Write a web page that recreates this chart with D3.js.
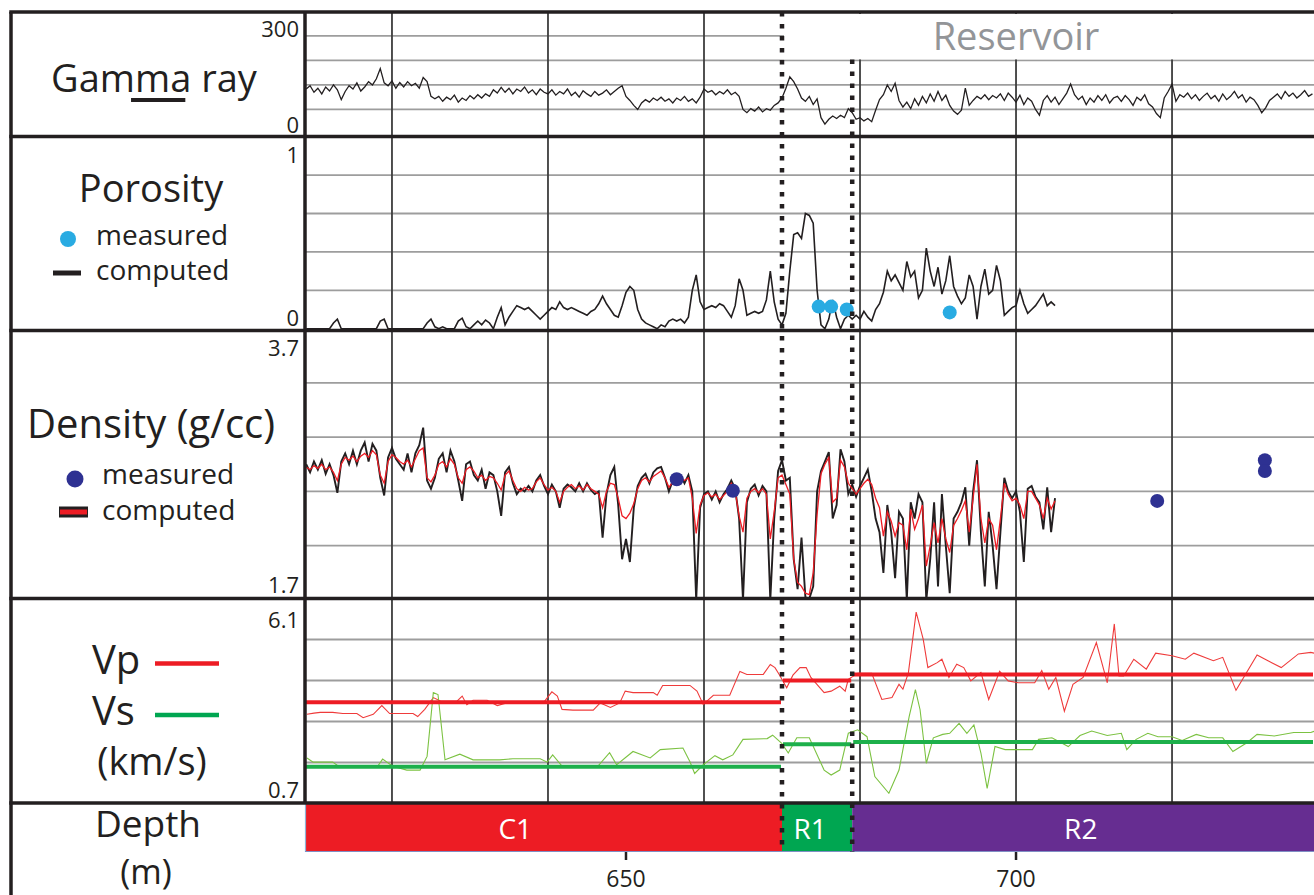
<!DOCTYPE html>
<html><head><meta charset="utf-8">
<script src="https://cdn.jsdelivr.net/npm/d3@7"></script>
<style>
body{margin:0;background:#fff}
svg{display:block}
text{font-family:"Open Sans",sans-serif;fill:#231F20}
</style>
</head><body>
<svg id="c" width="1314" height="895"></svg>
<script>
// ---------------- DATA ----------------
const depthDomain = [608.85, 738.2];
const gridDepths = [620, 640, 660, 680, 700, 720];
const depthTicks = [650, 700];
const zoneNames = ["C1", "R1", "R2"];
const zoneTops = [608.85, 670, 679];
const zoneBottoms = [670, 679, 738.2];
const zoneColors = ["#ED1C24", "#00A651", "#662D91"];
const zoneLabelDepths = [635.8, 673.6, 708.3];
const vpMean = [3.37, 3.94, 4.10];
const vsMean = [1.67, 2.26, 2.32];
const boundaryDepths = [670, 679];
const reservoirLabelDepth = 700;

const gammaRange = [0, 300], gammaGrid = [60, 120, 180, 240], gammaTickLabels = ["300", "0"];
const porosityRange = [0, 1], porosityGrid = [0.2, 0.4, 0.6, 0.8], porosityTickLabels = ["1", "0"];
const densityRange = [1.7, 3.7], densityGrid = [2.1, 2.5, 2.9, 3.3], densityTickLabels = ["3.7", "1.7"];
const velRange = [0.7, 6.1], velGrid = [1.78, 2.86, 3.94, 5.02], velTickLabels = ["6.1", "0.7"];

// Gamma ray, 0.5 m sampling from 609 m
const gammaStart = 609, gammaStep = 0.5;
const gammaValues = [
110,118,102,112,98,115,105,120,108,84,
104,118,110,125,105,115,128,120,135,160,
125,118,130,112,126,115,128,118,124,112,
138,128,92,86,92,80,90,84,95,78,
88,82,94,86,96,88,98,92,108,100,
114,102,112,98,110,104,115,100,108,96,
110,102,98,108,95,104,98,110,94,102,
90,106,98,92,104,95,100,108,96,104,
112,118,92,82,70,60,76,84,78,88,
82,90,80,86,76,88,82,92,80,86,
76,90,110,102,106,96,104,98,108,96,
102,92,60,52,62,56,66,54,62,58,
70,76,88,112,140,128,110,88,80,92,
72,86,40,24,36,44,38,46,40,62,
52,36,40,32,38,30,58,84,96,120,
104,124,82,66,78,62,86,70,92,76,
98,80,104,82,95,70,56,48,58,112,
70,82,92,86,96,84,94,88,98,82,
100,90,78,95,72,88,80,60,46,82,
94,78,90,72,86,100,122,96,84,92,
72,88,78,94,82,96,76,88,92,80,
94,84,70,90,82,96,74,66,50,40,
88,104,122,80,96,90,100,86,96,82,
92,100,86,94,80,98,84,92,104,88,
96,78,90,84,70,52,64,82,90,98,
86,104,92,100,88,96,106,92,98];

// Computed porosity, 0.5 m sampling from 609 m
const porosityStart = 609, porosityStep = 0.5;
const porosityValues = [
0,0,0,0,0,0,0,0.03,0.05,0,
0,0,0,0,0,0,0,0,0,0.04,
0.05,0,0,0,0,0,0,0,0,0,
0,0.03,0.05,0.01,0,0.01,0,0,0,0.04,
0.055,0.01,0,0.02,0.04,0.02,0.045,0.03,0,0.06,
0.11,0.02,0.06,0.09,0.12,0.11,0.1,0.11,0.09,0.07,
0.05,0.07,0.09,0.11,0.1,0.14,0.11,0.1,0.11,0.1,
0.09,0.08,0.07,0.09,0.1,0.13,0.17,0.13,0.1,0.07,
0.06,0.12,0.19,0.22,0.2,0.1,0.05,0.03,0.02,0.01,
0,0.02,0.01,0.04,0.05,0.04,0.05,0.03,0.06,0.2,
0.28,0.14,0.1,0.11,0.12,0.11,0.13,0.12,0.09,0.06,
0.12,0.26,0.2,0.07,0.08,0.09,0.08,0.09,0.15,0.3,
0.14,0.05,0.02,0.08,0.3,0.49,0.5,0.47,0.6,0.59,
0.55,0.2,0.02,0,0.05,0.15,0.06,0,0.05,0.07,
0.05,0.07,0.05,0.09,0.06,0.04,0.1,0.13,0.19,0.3,
0.25,0.28,0.24,0.2,0.35,0.27,0.3,0.16,0.2,0.42,
0.3,0.22,0.32,0.18,0.25,0.38,0.22,0.17,0.13,0.16,
0.28,0.22,0.05,0.22,0.31,0.18,0.2,0.33,0.25,0.07,
0.09,0.11,0.12,0.2,0.13,0.08,0.1,0.12,0.15,0.18,
0.12,0.14,0.12];
const porosityMeasured = [[674.7, 0.115], [676.3, 0.115], [678.3, 0.10], [691.5, 0.085]];

// Density, 0.5 m sampling from 609 m
const densityStart = 609, densityStep = 0.5;
const densityLog = [
2.70,2.64,2.72,2.66,2.73,2.63,2.70,2.62,2.49,2.72,
2.78,2.70,2.80,2.70,2.80,2.86,2.72,2.85,2.80,2.60,
2.47,2.75,2.82,2.74,2.70,2.66,2.78,2.64,2.78,2.84,
2.97,2.58,2.52,2.60,2.74,2.78,2.64,2.80,2.72,2.58,
2.43,2.70,2.72,2.62,2.58,2.66,2.52,2.64,2.62,2.50,
2.32,2.64,2.68,2.56,2.48,2.52,2.50,2.54,2.50,2.58,
2.62,2.54,2.48,2.55,2.50,2.38,2.52,2.55,2.53,2.50,
2.56,2.50,2.56,2.51,2.48,2.50,2.16,2.48,2.62,2.68,
2.40,2.00,2.15,1.98,2.38,2.54,2.60,2.63,2.56,2.64,
2.67,2.68,2.60,2.50,2.58,2.60,2.62,2.56,2.62,2.50,
1.70,2.38,2.48,2.50,2.44,2.50,2.42,2.48,2.52,2.58,
2.52,2.30,1.70,2.42,2.52,2.55,2.47,2.54,2.50,1.70,
2.30,2.65,2.73,2.58,2.60,2.00,1.78,2.16,1.72,1.71,
1.80,2.50,2.65,2.72,2.79,2.30,2.40,2.81,2.72,2.48,
2.55,2.46,2.54,2.60,2.66,2.50,2.30,2.20,1.90,2.40,
2.20,1.86,2.35,2.30,1.70,2.42,2.30,2.48,2.42,1.70,
2.00,2.42,1.80,2.48,2.10,1.75,2.30,2.35,2.42,2.53,
2.10,2.50,2.73,2.20,1.80,2.35,2.10,1.78,2.20,2.60,
2.50,2.45,2.50,2.35,1.98,2.52,2.54,2.46,2.42,2.22,
2.53,2.20,2.45];
const densityComputed = [
2.68,2.66,2.69,2.67,2.70,2.66,2.68,2.64,2.58,2.70,
2.75,2.73,2.76,2.72,2.76,2.78,2.75,2.80,2.77,2.62,
2.56,2.72,2.77,2.75,2.72,2.70,2.73,2.68,2.74,2.80,
2.82,2.60,2.57,2.62,2.70,2.72,2.68,2.74,2.70,2.60,
2.56,2.66,2.68,2.65,2.60,2.62,2.58,2.61,2.60,2.56,
2.51,2.62,2.65,2.58,2.52,2.50,2.53,2.51,2.52,2.57,
2.60,2.55,2.51,2.53,2.50,2.42,2.50,2.53,2.55,2.52,
2.54,2.51,2.55,2.52,2.50,2.48,2.38,2.50,2.56,2.55,
2.45,2.32,2.30,2.34,2.41,2.52,2.58,2.60,2.57,2.61,
2.63,2.65,2.60,2.53,2.57,2.58,2.60,2.58,2.60,2.45,
2.19,2.40,2.47,2.49,2.46,2.48,2.44,2.47,2.50,2.56,
2.50,2.32,2.20,2.45,2.50,2.52,2.49,2.52,2.48,2.15,
2.35,2.60,2.62,2.55,2.48,2.00,1.83,1.80,1.75,1.74,
1.90,2.33,2.63,2.70,2.75,2.42,2.45,2.73,2.68,2.56,
2.52,2.48,2.52,2.56,2.59,2.55,2.45,2.38,2.17,2.35,
2.28,2.17,2.27,2.25,2.07,2.37,2.22,2.30,2.40,1.95,
2.10,2.27,2.12,2.30,2.15,2.05,2.25,2.30,2.36,2.43,
2.20,2.45,2.70,2.30,2.12,2.30,2.25,2.07,2.30,2.56,
2.48,2.43,2.45,2.40,2.30,2.50,2.50,2.45,2.40,2.30,
2.45,2.37,2.43];
const densityMeasured = [[656.5, 2.59], [663.7, 2.505], [718.1, 2.43], [731.9, 2.73], [731.9, 2.65]];

// Velocities: [depth m, km/s]
const vpLog = [[609.1,3.05],[610,3.08],[610.8,3.1],[612.4,3.1],[613.7,3.07],[615.5,3.07],[616.3,2.96],[617.6,3.05],[618.7,3.28],[619.7,3.07],
[621,3.07],[622.7,3.07],[623.3,2.99],[624.2,3.18],[625.3,3.49],[626.2,3.4],[627,3.39],[628.3,3.39],[629,3.53],[629.6,3.3],
[630.4,3.42],[632.2,3.42],[633.5,3.28],[634.7,3.35],[636.4,3.35],[639.4,3.35],[640.5,3.64],[641.2,3.53],[641.8,3.18],[643.2,3.16],
[645.8,3.16],[646.7,3.35],[648,3.23],[649.2,3.35],[649.9,3.66],[650.9,3.62],[653.5,3.62],[654,3.55],[654.7,3.81],[658.2,3.81],
[659.1,3.66],[659.9,3.31],[661.2,3.55],[663.3,3.55],[664.6,4.18],[665.5,4.1],[667.6,4.1],[668.5,4.36],[669.1,4.28],[669.7,4.08],
[670.6,3.75],[671.4,4.08],[672.3,4.28],[673.1,4.28],[673.7,4.02],[675.4,3.62],[676.3,3.66],[677.4,3.79],[678.1,3.66],[678.5,3.97],
[679.7,4.13],[681.5,4.13],[682.8,3.44],[684.1,3.49],[685,3.84],[685.5,3.71],[686.2,4.14],[687.2,5.74],[688.1,5.03],[688.7,4.28],
[689.9,4.41],[690.5,4.5],[691.4,4.02],[692.4,4.37],[693.3,4.28],[694.2,3.93],[695.5,4.15],[696.5,3.44],[697.9,4.18],[699,3.93],
[700.3,3.88],[702.4,3.88],[703.3,4.2],[704.2,3.71],[705.1,4.02],[706.2,3.13],[707.3,3.84],[708.6,4.02],[710.3,4.94],[711.7,3.88],
[712.6,5.43],[713.2,4.06],[713.8,4.06],[715.1,4.5],[716.7,4.24],[717.9,4.66],[720,4.59],[721.7,4.5],[722.8,4.66],[725.3,4.46],
[726.5,4.55],[728.2,3.68],[730.9,4.61],[734,4.28],[736.2,4.64],[737.8,4.68],[738.2,4.66]];
const vsLog = [[609.1,1.9],[609.9,1.79],[612.4,1.79],[613.3,1.66],[618.1,1.66],[618.8,1.87],[620.1,1.68],[621.9,1.58],[623.6,1.58],[624.5,1.94],
[625.3,3.62],[625.9,3.57],[626.8,1.85],[628.7,2.0],[630.4,1.85],[633.8,1.85],[635.5,1.88],[639,1.88],[639.9,1.79],[640.6,1.98],
[641.9,1.66],[646.3,1.66],[647.9,2.04],[648.8,1.72],[650.9,2.07],[653.1,1.9],[654.4,2.12],[657.3,2.16],[658.2,1.8],[658.8,1.49],
[659.9,1.72],[661.4,1.96],[662.4,1.85],[663.7,1.98],[665,2.39],[668.1,2.41],[668.8,2.5],[670,2.28],[670.8,2.03],[671.9,2.43],
[673.5,2.43],[675.4,1.58],[676.3,1.45],[677.4,1.58],[678.5,2.55],[679.7,2.64],[680.9,2.46],[681.9,1.41],[683.7,0.97],[685,1.58],
[686.3,2.99],[687.1,3.7],[687.7,3.17],[688.5,1.76],[689.4,2.43],[690.6,2.52],[691.5,2.55],[692.7,2.81],[693.7,2.55],[694.6,2.77],
[695.5,2.03],[696.3,1.1],[697.3,2.2],[698.6,2.12],[702.1,2.12],[702.9,2.39],[704.6,2.43],[706.7,2.2],[708.2,2.49],[709.7,2.61],
[711.7,2.49],[713.5,2.55],[714.2,2.12],[715.4,2.39],[716.9,2.55],[718.2,2.46],[720,2.46],[721.3,2.36],[723.1,2.52],[724.7,2.43],
[726.5,2.43],[727.8,2.07],[729.6,2.3],[730.9,2.52],[733.1,2.48],[735.6,2.57],[737.8,2.57],[738.2,2.6]];

// ---------------- LAYOUT ----------------
const INK = "#231F20";
const FRAME_L = 11, FRAME_T = 12, DIV_X = 305, RIGHT = 1314;
const rowBorders = [12, 136.5, 330.5, 598.5, 803];
const BAR_BOTTOM = 852;

const svg = d3.select("#c");
const x = d3.scaleLinear().domain(depthDomain).range([DIV_X, RIGHT]);

const panels = [
  {key:"gamma", y:d3.scaleLinear().domain(gammaRange).range([134, 11.3]), grid:gammaGrid, labels:gammaTickLabels, top:rowBorders[0], bottom:rowBorders[1], lt:24.5, lb:3.5},
  {key:"por", y:d3.scaleLinear().domain(porosityRange).range([328.7, 136.7]), grid:porosityGrid, labels:porosityTickLabels, top:rowBorders[1], bottom:rowBorders[2], lt:26, lb:4.5},
  {key:"den", y:d3.scaleLinear().domain(densityRange).range([600, 328.5]), grid:densityGrid, labels:densityTickLabels, top:rowBorders[2], bottom:rowBorders[3], lt:25.5, lb:5.5},
  {key:"vel", y:d3.scaleLinear().domain(velRange).range([803.5, 598.5]), grid:velGrid, labels:velTickLabels, top:rowBorders[3], bottom:rowBorders[4], lt:29, lb:5}
];

const defs = svg.append("defs");
panels.forEach(p => {
  defs.append("clipPath").attr("id", "clip-" + p.key)
    .append("rect").attr("x", DIV_X).attr("y", p.top + 1.5)
    .attr("width", RIGHT - DIV_X).attr("height", p.bottom - p.top - 3);
});

// grids
panels.forEach(p => {
  const g = svg.append("g");
  g.selectAll("line.h").data(p.grid).join("line")
    .attr("x1", DIV_X).attr("x2", RIGHT)
    .attr("y1", d => p.y(d)).attr("y2", d => p.y(d))
    .attr("stroke", "#9d9d9d").attr("stroke-width", 1.8);
  g.selectAll("line.v").data(gridDepths).join("line")
    .attr("x1", d => x(d)).attr("x2", d => x(d))
    .attr("y1", p.top).attr("y2", p.bottom)
    .attr("stroke", "#3d3d3d").attr("stroke-width", 1.8);
});

const P = Object.fromEntries(panels.map(p => [p.key, p]));
const series = (start, step, arr) => arr.map((v, i) => [start + i * step, v]);

// gamma
{
  const p = P.gamma;
  svg.append("path").attr("clip-path", "url(#clip-gamma)")
    .datum(series(gammaStart, gammaStep, gammaValues))
    .attr("d", d3.line().x(d => x(d[0])).y(d => p.y(d[1])))
    .attr("fill", "none").attr("stroke", INK).attr("stroke-width", 1.3);
}
// porosity
{
  const p = P.por;
  svg.append("path").attr("clip-path", "url(#clip-por)")
    .datum(series(porosityStart, porosityStep, porosityValues))
    .attr("d", d3.line().x(d => x(d[0])).y(d => p.y(d[1])))
    .attr("fill", "none").attr("stroke", INK).attr("stroke-width", 1.6);
  svg.append("g").selectAll("circle").data(porosityMeasured).join("circle")
    .attr("cx", d => x(d[0])).attr("cy", d => p.y(d[1])).attr("r", 7)
    .attr("fill", "#29ABE2");
}
// density
{
  const p = P.den;
  svg.append("path").attr("clip-path", "url(#clip-den)")
    .datum(series(densityStart, densityStep, densityLog))
    .attr("d", d3.line().x(d => x(d[0])).y(d => p.y(d[1])))
    .attr("fill", "none").attr("stroke", INK).attr("stroke-width", 1.9);
  svg.append("path").attr("clip-path", "url(#clip-den)")
    .datum(series(densityStart, densityStep, densityComputed))
    .attr("d", d3.line().x(d => x(d[0])).y(d => p.y(d[1])))
    .attr("fill", "none").attr("stroke", "#ED1C24").attr("stroke-width", 1.3);
  svg.append("g").selectAll("circle").data(densityMeasured).join("circle")
    .attr("cx", d => x(d[0])).attr("cy", d => p.y(d[1])).attr("r", 7)
    .attr("fill", "#2E3192");
}
// velocities
{
  const p = P.vel;
  const ln = d3.line().x(d => x(d[0])).y(d => p.y(d[1]));
  svg.append("path").attr("clip-path", "url(#clip-vel)").datum(vpLog).attr("d", ln)
    .attr("fill", "none").attr("stroke", "#EF3B3B").attr("stroke-width", 1.1);
  svg.append("path").attr("clip-path", "url(#clip-vel)").datum(vsLog).attr("d", ln)
    .attr("fill", "none").attr("stroke", "#7CC242").attr("stroke-width", 1.1);
  const zi = d3.range(zoneNames.length);
  svg.append("g").selectAll("line").data(zi).join("line")
    .attr("x1", i => x(zoneTops[i]) + 1).attr("x2", i => x(zoneBottoms[i]) - 1)
    .attr("y1", i => p.y(vpMean[i])).attr("y2", i => p.y(vpMean[i]))
    .attr("stroke", "#ED1C24").attr("stroke-width", 4);
  svg.append("g").selectAll("line").data(zi).join("line")
    .attr("x1", i => x(zoneTops[i]) + 1).attr("x2", i => x(zoneBottoms[i]) - 1)
    .attr("y1", i => p.y(vsMean[i])).attr("y2", i => p.y(vsMean[i]))
    .attr("stroke", "#1DB04B").attr("stroke-width", 4);
}

// reservoir label area
svg.append("rect").attr("x", x(boundaryDepths[0]) + 2).attr("y", FRAME_T + 2)
  .attr("width", RIGHT - x(boundaryDepths[0]) - 2).attr("height", P.gamma.y(gammaGrid[2]) - FRAME_T - 3)
  .attr("fill", "#fff");
svg.append("text").attr("x", x(reservoirLabelDepth)).attr("y", 50)
  .attr("text-anchor", "middle").style("font-size", "38px").style("fill", "#939598")
  .text("Reservoir");

// zone bar
{
  const zi = d3.range(zoneNames.length);
  svg.append("g").selectAll("rect").data(zi).join("rect")
    .attr("x", i => x(zoneTops[i])).attr("width", i => x(zoneBottoms[i]) - x(zoneTops[i]))
    .attr("y", rowBorders[4]).attr("height", BAR_BOTTOM - rowBorders[4])
    .attr("fill", i => zoneColors[i]);
  svg.append("line").attr("x1", DIV_X + 0.5).attr("x2", DIV_X + 0.5)
    .attr("y1", rowBorders[4]).attr("y2", BAR_BOTTOM).attr("stroke", "#8fb4d6").attr("stroke-width", 1.2);
  svg.append("line").attr("x1", DIV_X).attr("x2", RIGHT)
    .attr("y1", BAR_BOTTOM - 0.5).attr("y2", BAR_BOTTOM - 0.5).attr("stroke", "#7f8fc4").attr("stroke-width", 1);
  svg.append("g").selectAll("text").data(zi).join("text")
    .attr("x", i => x(zoneLabelDepths[i])).attr("y", 839)
    .attr("text-anchor", "middle").style("font-size", "28px").style("fill", "#fff")
    .text(i => zoneNames[i]);
  svg.append("g").selectAll("line").data(depthTicks).join("line")
    .attr("x1", d => x(d)).attr("x2", d => x(d)).attr("y1", BAR_BOTTOM).attr("y2", 860)
    .attr("stroke", INK).attr("stroke-width", 2.5);
  svg.append("g").selectAll("text").data(depthTicks).join("text")
    .attr("x", d => x(d)).attr("y", 887).attr("text-anchor", "middle")
    .style("font-size", "23px").text(d => d);
}

// frame
const fr = svg.append("g").attr("stroke", INK).attr("stroke-width", 3.5);
rowBorders.forEach(yb => fr.append("line").attr("x1", FRAME_L - 1.75).attr("x2", RIGHT).attr("y1", yb).attr("y2", yb));
fr.append("line").attr("x1", FRAME_L).attr("x2", FRAME_L).attr("y1", FRAME_T).attr("y2", 895);
fr.append("line").attr("x1", DIV_X).attr("x2", DIV_X).attr("y1", FRAME_T).attr("y2", rowBorders[4]);

// boundary dotted lines
svg.append("g").selectAll("line").data(boundaryDepths).join("line")
  .attr("x1", d => x(d)).attr("x2", d => x(d))
  .attr("y1", (d, i) => i === 0 ? FRAME_T : P.gamma.y(gammaGrid[2]) - 1)
  .attr("y2", BAR_BOTTOM)
  .attr("stroke", INK).attr("stroke-width", 4.5).attr("stroke-dasharray", "4.5 7.5");

// tick labels
panels.forEach(p => {
  svg.append("text").attr("x", 299).attr("y", p.top + p.lt).attr("text-anchor", "end")
    .style("font-size", "22px").text(p.labels[0]);
  svg.append("text").attr("x", 299).attr("y", p.bottom - p.lb).attr("text-anchor", "end")
    .style("font-size", "22px").text(p.labels[1]);
});

// titles & legends
const title = (t, cx, by, size) => svg.append("text").attr("x", cx).attr("y", by)
  .attr("text-anchor", "middle").style("font-size", size + "px").text(t);
const gt = title("Gamma ray", 154, 92, 38);
{
  const n = gt.node();
  const s = n.getStartPositionOfChar(3).x, e = n.getEndPositionOfChar(4).x;
  svg.append("line").attr("x1", s - 4).attr("x2", e - 6).attr("y1", 100).attr("y2", 100)
    .attr("stroke", INK).attr("stroke-width", 4);
}
title("Porosity", 151, 202, 38);
svg.append("circle").attr("cx", 68).attr("cy", 239).attr("r", 8).attr("fill", "#29ABE2");
svg.append("text").attr("x", 96).attr("y", 245).style("font-size", "28px").text("measured");
svg.append("line").attr("x1", 53).attr("x2", 81).attr("y1", 273).attr("y2", 273).attr("stroke", INK).attr("stroke-width", 5);
svg.append("text").attr("x", 96).attr("y", 280).style("font-size", "28px").text("computed");

title("Density (g/cc)", 151, 438, 40);
svg.append("circle").attr("cx", 75).attr("cy", 479).attr("r", 8.5).attr("fill", "#2E3192");
svg.append("text").attr("x", 102).attr("y", 484).style("font-size", "28px").text("measured");
svg.append("line").attr("x1", 59).attr("x2", 88).attr("y1", 512).attr("y2", 512).attr("stroke", INK).attr("stroke-width", 11);
svg.append("line").attr("x1", 60).attr("x2", 87).attr("y1", 512).attr("y2", 512).attr("stroke", "#ED1C24").attr("stroke-width", 5);
svg.append("text").attr("x", 102).attr("y", 520).style("font-size", "28px").text("computed");

svg.append("text").attr("x", 92).attr("y", 674).style("font-size", "40px").text("Vp");
svg.append("line").attr("x1", 155).attr("x2", 219).attr("y1", 663.5).attr("y2", 663.5).attr("stroke", "#ED1C24").attr("stroke-width", 4.5);
svg.append("text").attr("x", 92).attr("y", 725).style("font-size", "40px").text("Vs");
svg.append("line").attr("x1", 155).attr("x2", 219).attr("y1", 715).attr("y2", 715).attr("stroke", "#00A651").attr("stroke-width", 4.5);
title("(km/s)", 152, 775, 38);
title("Depth", 148, 837, 37);
title("(m)", 146, 884, 34);
</script>
</body></html>
